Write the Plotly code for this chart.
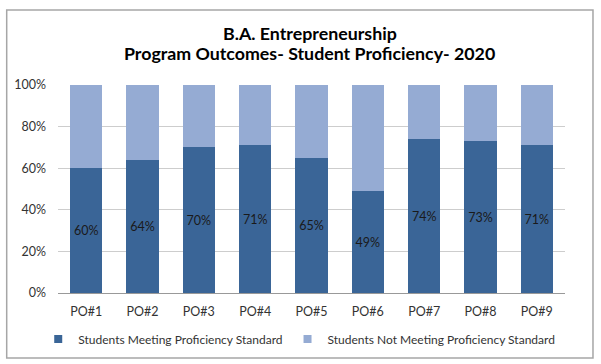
import plotly.graph_objects as go

categories = ["PO#1", "PO#2", "PO#3", "PO#4", "PO#5", "PO#6", "PO#7", "PO#8", "PO#9"]
meeting = [60, 64, 70, 71, 65, 49, 74, 73, 71]
not_meeting = [100 - v for v in meeting]
meeting_labels = [f"{v}%" for v in meeting]
y_ticks = [0, 20, 40, 60, 80, 100]
y_tick_labels = ["0%", "20%", "40%", "60%", "80%", "100%"]
series_names = ["Students Meeting Proficiency Standard", "Students Not Meeting Proficiency Standard"]
colors = ["#3A6597", "#95ABD3"]
title_lines = ["B.A. Entrepreneurship", "Program Outcomes- Student Proficiency- 2020"]

FONT = "Lato, Liberation Sans, sans-serif"

fig = go.Figure()
fig.add_trace(go.Bar(
    x=categories, y=meeting, name=series_names[0], showlegend=False,
    marker=dict(color=colors[0], line=dict(width=0)),
    text=meeting_labels, textposition="inside", insidetextanchor="middle",
    textfont=dict(color="#1a1a1a", size=12.5, family=FONT),
))
fig.add_trace(go.Bar(
    x=categories, y=not_meeting, name=series_names[1], showlegend=False,
    marker=dict(color=colors[1], line=dict(width=0)),
))
# legend entries with small square markers
for name, c in zip(series_names, colors):
    fig.add_trace(go.Scatter(
        x=[None], y=[None], mode="markers", name=name,
        marker=dict(symbol="square", size=8, color=c),
    ))

fig.update_layout(
    barmode="stack",
    bargap=0.43,
    width=601, height=364,
    margin=dict(l=58, r=36, t=85, b=71, autoexpand=False),
    paper_bgcolor="white", plot_bgcolor="white",
    font=dict(family=FONT, size=12.5, color="#333333"),
    xaxis=dict(showline=True, linecolor="#999999", linewidth=1, ticks="",
               tickfont=dict(size=12.5, color="#333333"), automargin=False,
               ticklabelstandoff=7),
    yaxis=dict(range=[0, 100], tickvals=y_ticks, ticktext=y_tick_labels,
               showgrid=True, gridcolor="#CDCDCD", gridwidth=1, zeroline=False,
               ticks="", tickfont=dict(size=12.5, color="#333333"), automargin=False,
               ticklabelstandoff=11),
    legend=dict(orientation="h", x=-0.039, xanchor="left", y=-0.221, yanchor="middle",
                font=dict(size=12, color="#333333"), traceorder="normal",
                itemwidth=30, tracegroupgap=0, bgcolor="rgba(0,0,0,0)"),
    showlegend=True,
)

for line, yy in zip(title_lines, [1.252, 1.154]):
    fig.add_annotation(
        text=f"<b>{line}</b>",
        xref="paper", yref="paper", x=0.497, y=yy, xanchor="center", yanchor="middle",
        showarrow=False, font=dict(size=17.8, color="#000000", family=FONT),
    )

fig.add_shape(type="rect", xref="paper", yref="paper",
              x0=-0.1012, x1=1.0552, y0=-0.3125, y1=1.3606,
              line=dict(color="#A6A6A6", width=1.5), fillcolor="rgba(0,0,0,0)", layer="below")

fig.write_html("out.html", config={"displayModeBar": False},
               post_script="document.body.style.margin='0';")
